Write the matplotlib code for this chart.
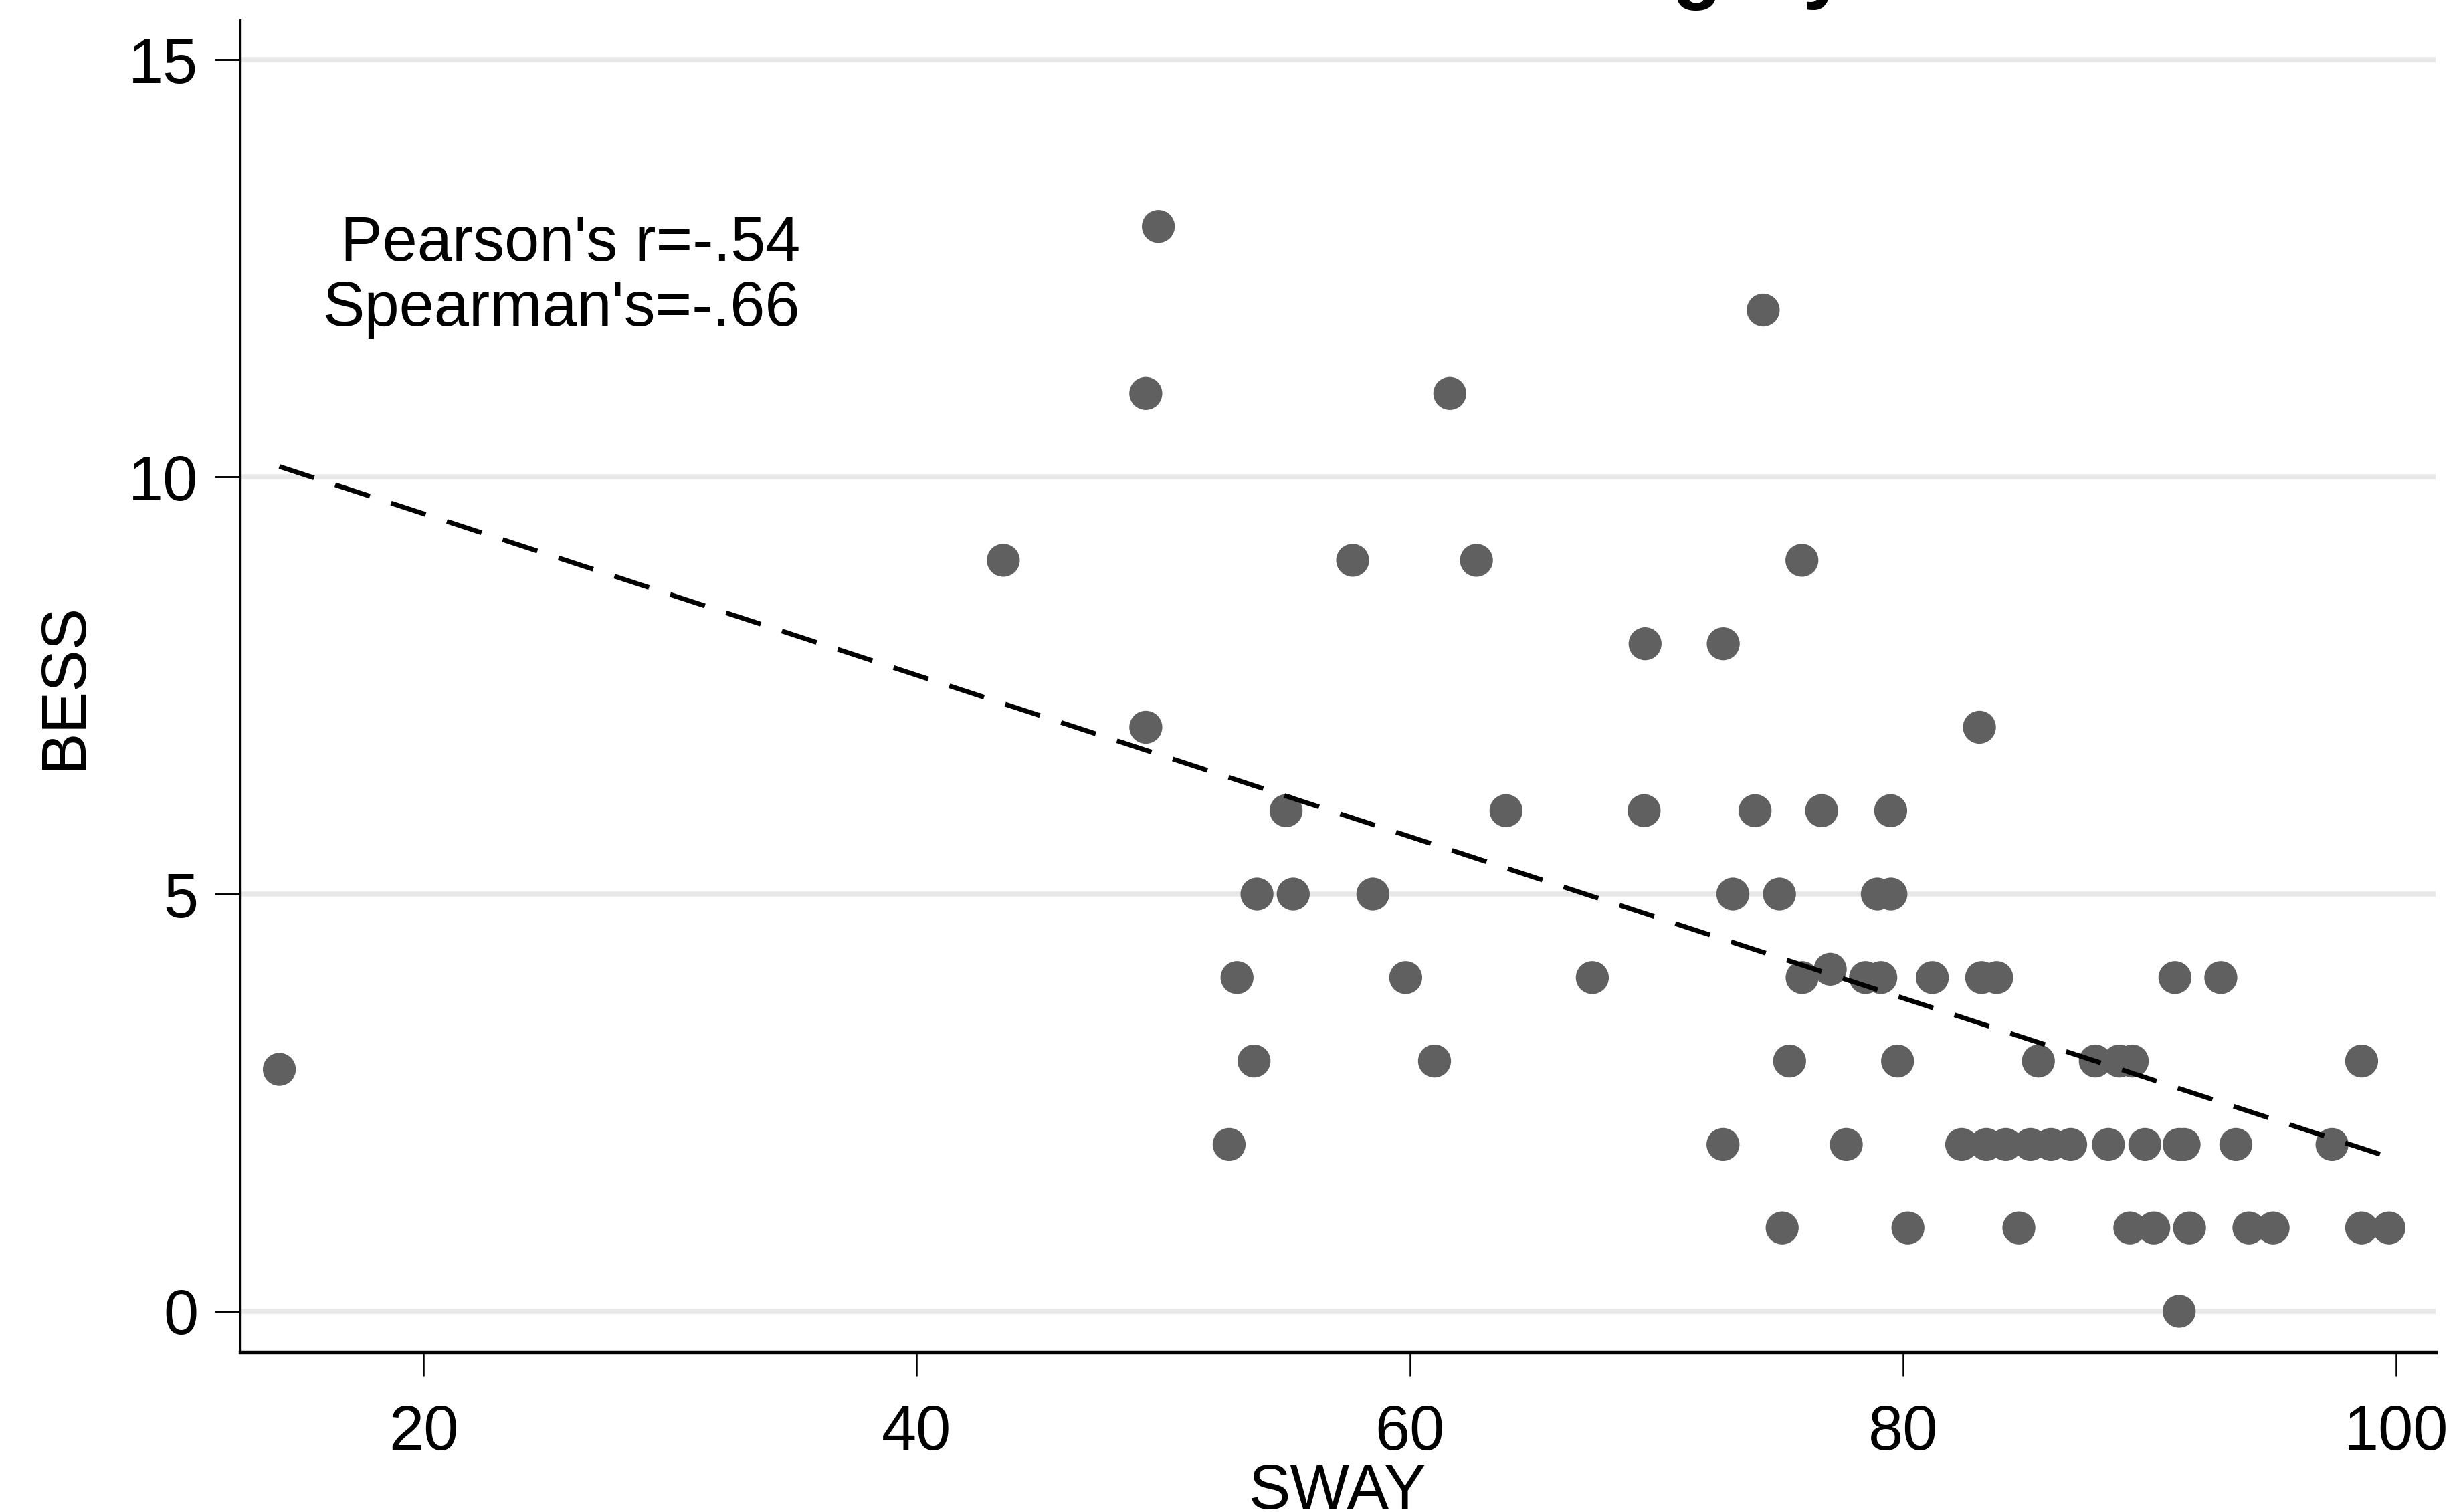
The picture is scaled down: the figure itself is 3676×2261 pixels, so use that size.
"""
SWAY vs BESS scatter with linear fit (Stata-like look)
"""

import matplotlib
matplotlib.use("Agg")
import matplotlib.pyplot as plt
import numpy as np

plt.rcParams["font.family"] = ["Liberation Sans", "DejaVu Sans"]

# ── Data ─────────────────────────────────────────────────────────────────────
sway = [
    49.8,
    74.33,
    49.29, 61.62,
    43.51, 57.68, 62.70, 75.9,
    69.54, 72.71,
    49.29, 83.1,
    54.98, 63.90, 69.5, 74.0, 76.7, 79.5,
    53.80, 55.27, 58.50, 73.1, 74.99, 78.96, 79.51,
    52.99, 59.83, 67.40, 75.91, 78.48, 79.10, 81.19, 83.19, 83.80, 91.03, 92.89,
    77.05,
    53.68, 61.0, 75.40, 79.78, 85.49, 87.80, 88.77, 89.30, 98.60,
    14.15,
    52.67, 72.70, 77.70, 82.38, 83.38, 84.17, 85.17, 86.00, 86.80, 88.33,
    89.81, 91.2, 91.4, 93.5, 97.40,
    75.10, 80.2, 84.7, 89.2, 90.17, 91.62, 94.03, 95.01, 98.60, 99.71,
    91.2,
]
bess = (
    [13]
    + [12]
    + [11] * 2
    + [9] * 4
    + [8] * 2
    + [7] * 2
    + [6] * 6
    + [5] * 7
    + [4] * 11
    + [4.1]
    + [3] * 9
    + [2.9]
    + [2] * 15
    + [1] * 10
    + [0]
)

x_ticks = [20, 40, 60, 80, 100]
y_ticks = [0, 5, 10, 15]
stats_lines = ["Pearson's r=-.54", "Spearman's=-.66"]
title = "Male and Female Category"

DOT = "#606060"
GRID = "#e8e8e8"
FS = 22.5

fig = plt.figure(figsize=(3676 / 300, 2261 / 300), dpi=300)
ax = fig.add_axes([0.09766, 0.10571, 0.99048 - 0.09766, 0.98673 - 0.10571])

# gridlines on y ticks only
for yv in y_ticks:
    ax.axhline(yv, color=GRID, linewidth=1.8, zorder=0)

ax.scatter(sway, bess, s=140, color=DOT, edgecolors="none", zorder=2)

# linear fit across the data range
slope, icpt = np.polyfit(sway, bess, 1)
xf = np.array([min(sway), max(sway)])
ax.plot(xf, icpt + slope * xf, color="black", linewidth=1.7,
        dashes=(7.7, 4.7), zorder=3)

for i, line in enumerate(stats_lines):
    ax.text(35.27, 12.59 - 0.78 * i, line, ha="right", va="baseline",
            fontsize=FS)

ax.set_xlim(12.56, 101.6)
ax.set_ylim(-0.489, 15.474)
ax.set_xticks(x_ticks)
ax.set_yticks(y_ticks)

ax.spines["top"].set_visible(False)
ax.spines["right"].set_visible(False)
ax.spines["left"].set_linewidth(0.8)
ax.spines["bottom"].set_linewidth(1.3)

ax.tick_params(axis="x", length=8.6, width=0.6, pad=9.8, labelsize=FS)
ax.tick_params(axis="y", length=9.2, width=0.7, pad=5.8, labelsize=FS)

ax.set_xlabel("SWAY", fontsize=FS)
ax.set_ylabel("BESS", fontsize=FS)
ax.xaxis.set_label_coords(0.5, -0.0828)
ax.yaxis.set_label_coords(-0.0662, 0.5)

# title sits above the canvas; only its descenders show
ax.set_title(title, fontsize=29, fontweight="bold", pad=9.6)

fig.savefig("out.png", dpi=300)
